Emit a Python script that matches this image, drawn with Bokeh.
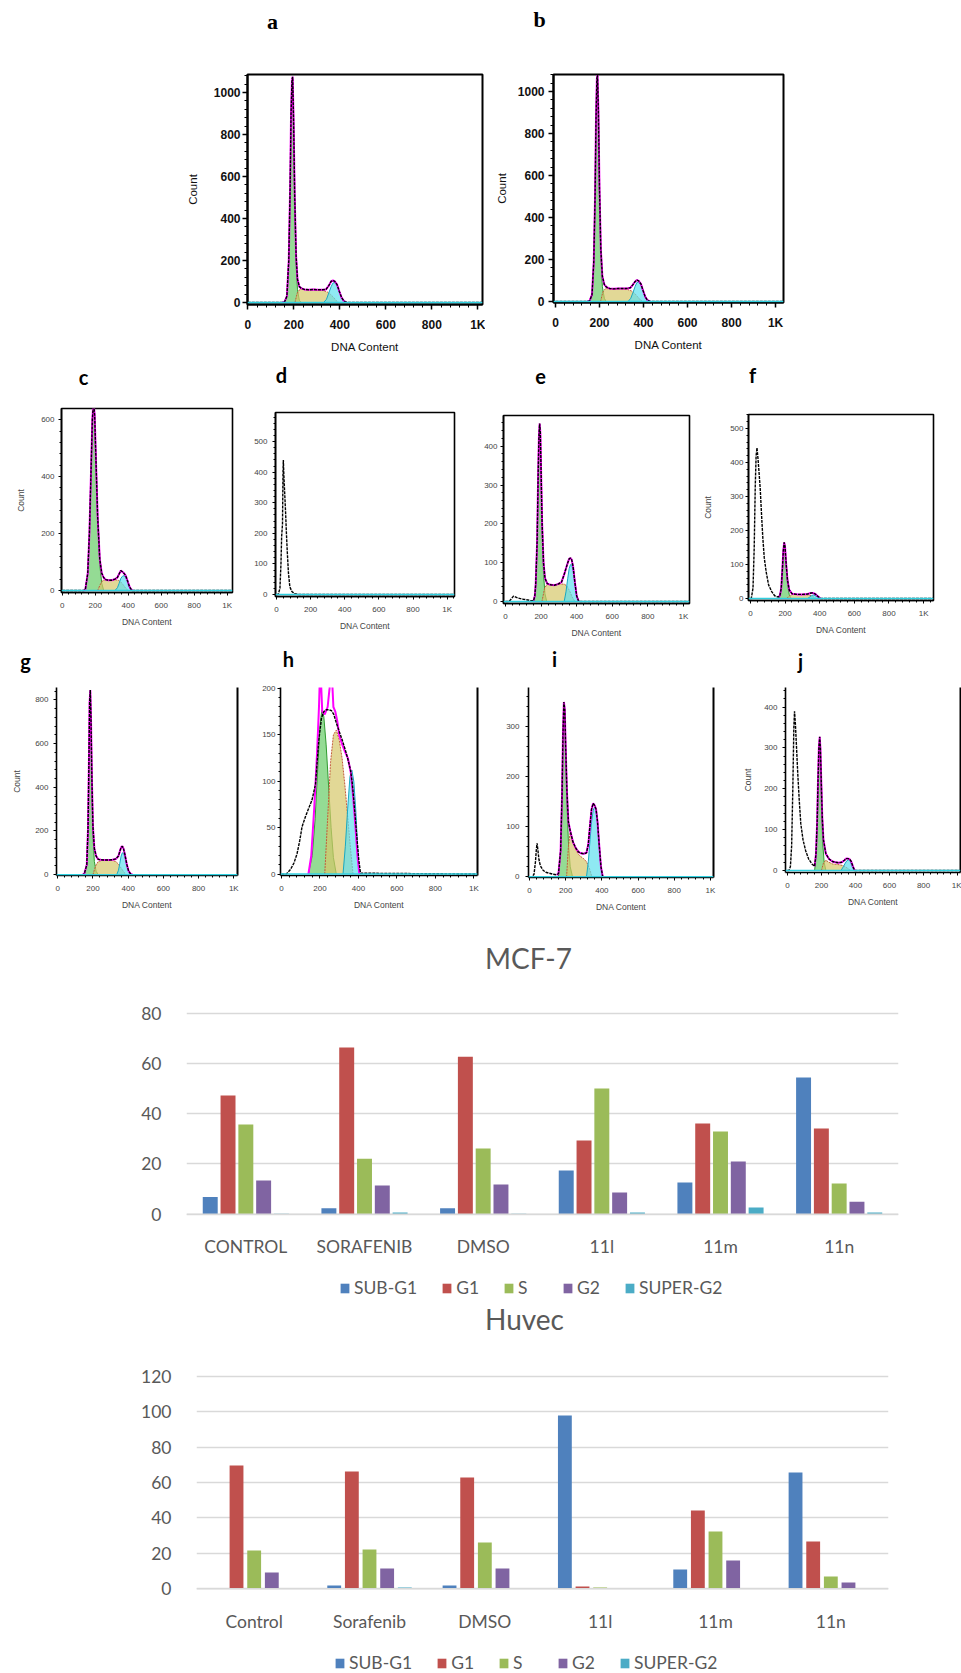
from bokeh.plotting import figure
from bokeh.layouts import column, row
from bokeh.models import (Range1d, FactorRange, Legend, LegendItem, Span,
                          SingleIntervalTicker, LinearAxis, ColumnDataSource, FixedTicker)
from bokeh.transform import dodge
from bokeh.embed import file_html
from bokeh.resources import INLINE
from bokeh.core.properties import value

# ---------------- bar chart data ----------------
mcf_categories = ["CONTROL", "SORAFENIB", "DMSO", "11l", "11m", "11n"]
huvec_categories = ["Control", "Sorafenib", "DMSO", "11l", "11m", "11n"]
phases = ["SUB-G1", "G1", "S", "G2", "SUPER-G2"]
mcf_sub_g1 = [6.8, 2.4, 2.4, 17.4, 12.6, 54.4]
mcf_g1 = [47.2, 66.3, 62.7, 29.3, 36.1, 34.1]
mcf_s = [35.7, 22.1, 26.1, 50.0, 32.9, 12.2]
mcf_g2 = [13.4, 11.4, 11.8, 8.6, 21.0, 5.0]
mcf_super_g2 = [0.2, 0.7, 0.2, 0.7, 2.7, 0.7]
huvec_sub_g1 = [0.0, 1.9, 1.9, 97.8, 10.9, 65.7]
huvec_g1 = [69.6, 66.2, 62.8, 1.3, 44.2, 26.7]
huvec_s = [21.6, 22.2, 26.2, 0.75, 32.4, 7.0]
huvec_g2 = [9.2, 11.5, 11.5, 0.0, 16.0, 3.6]
huvec_super_g2 = [0.0, 0.75, 0.0, 0.0, 0.0, 0.0]
mcf_yticks = [0, 20, 40, 60, 80]
huvec_yticks = [0, 20, 40, 60, 80, 100, 120]
phase_colors = ["#4F81BD", "#C0504D", "#9BBB59", "#8064A2", "#4BACC6"]

# ---------------- histogram data (DNA content, count) ----------------
a_total_x = [0, 150, 160, 170, 178, 184, 188, 192, 195, 199, 204, 210, 216, 224, 232, 245, 265, 285, 305, 325, 340, 352, 362, 370, 378, 388, 398, 408, 418, 430, 1024]
a_total_y = [0, 0, 3, 30, 200, 550, 900, 1060, 1075, 870, 500, 220, 110, 75, 68, 62, 60, 62, 60, 60, 62, 80, 100, 105, 100, 85, 52, 22, 6, 0, 0]
a_g1_x = [160, 170, 178, 184, 188, 192, 195, 199, 204, 210, 216, 224, 232]
a_g1_y = [0, 30, 200, 550, 900, 1060, 1050, 850, 480, 180, 60, 10, 0]
a_s_x = [205, 215, 228, 245, 265, 285, 305, 325, 345, 360, 372, 385, 395]
a_s_y = [0, 45, 65, 62, 60, 62, 60, 58, 50, 38, 25, 8, 0]
a_g2_x = [330, 342, 352, 362, 370, 378, 388, 398, 408, 418, 428]
a_g2_y = [0, 15, 45, 75, 92, 95, 80, 50, 22, 6, 0]

b_total_x = [0, 145, 155, 166, 174, 180, 184, 188, 191, 195, 200, 206, 213, 222, 232, 245, 265, 285, 305, 325, 340, 352, 362, 370, 378, 388, 398, 408, 418, 430, 1036]
b_total_y = [0, 0, 3, 32, 190, 510, 860, 1060, 1078, 910, 540, 250, 120, 80, 68, 62, 60, 62, 62, 62, 65, 80, 95, 102, 98, 84, 52, 22, 6, 0, 0]
b_g1_x = [155, 166, 174, 180, 184, 188, 191, 195, 200, 206, 213, 222, 230]
b_g1_y = [0, 30, 180, 500, 850, 1050, 1060, 900, 520, 220, 70, 15, 0]
b_s_x = [205, 215, 228, 245, 265, 285, 305, 325, 345, 360, 372, 385, 395]
b_s_y = [0, 45, 62, 60, 58, 60, 60, 58, 50, 38, 24, 8, 0]
b_g2_x = [330, 342, 352, 362, 370, 378, 388, 398, 408, 418, 428]
b_g2_y = [0, 15, 42, 72, 90, 92, 78, 48, 20, 5, 0]

c_total_x = [0, 130, 140, 155, 165, 175, 183, 190, 197, 205, 215, 228, 240, 252, 265, 280, 300, 320, 335, 345, 355, 365, 375, 385, 395, 405, 415, 425, 1030]
c_total_y = [0, 0, 2, 60, 200, 420, 600, 665, 615, 455, 260, 110, 60, 45, 38, 36, 36, 40, 46, 58, 70, 66, 60, 52, 36, 18, 6, 0, 0]
c_g1_x = [140, 155, 165, 175, 183, 190, 197, 205, 215, 228, 240, 252]
c_g1_y = [0, 60, 200, 420, 600, 660, 610, 450, 250, 90, 25, 0]
c_s_x = [215, 230, 245, 260, 280, 300, 320, 340, 355, 370, 385, 400]
c_s_y = [0, 20, 35, 38, 36, 36, 38, 36, 30, 20, 8, 0]
c_g2_x = [320, 335, 345, 355, 365, 375, 385, 395, 405, 415, 425]
c_g2_y = [0, 10, 25, 42, 50, 52, 45, 32, 16, 5, 0]

d_total_x = [0, 10, 20, 26, 30, 35, 38, 40, 43, 48, 53, 58, 63, 70, 78, 90, 105, 130, 1040]
d_total_y = [0, 0, 20, 100, 190, 230, 400, 440, 390, 330, 270, 200, 140, 70, 25, 10, 3, 0, 0]

e_total_x = [0, 20, 35, 45, 55, 70, 100, 140, 158, 165, 170, 178, 184, 188, 192, 196, 200, 206, 214, 222, 235, 255, 275, 295, 315, 330, 340, 350, 358, 365, 372, 380, 390, 400, 412, 1035]
e_total_y = [0, 0, 8, 14, 12, 9, 6, 3, 2, 15, 45, 155, 335, 425, 458, 435, 340, 200, 100, 60, 46, 43, 42, 45, 50, 70, 85, 100, 110, 112, 108, 90, 50, 15, 0, 0]
e_g1_x = [160, 170, 178, 184, 188, 192, 196, 200, 206, 214, 222, 232]
e_g1_y = [0, 40, 150, 330, 420, 455, 430, 330, 180, 70, 20, 0]
e_s_x = [205, 220, 235, 255, 275, 295, 315, 330, 345, 360, 375, 390]
e_s_y = [0, 35, 45, 42, 42, 44, 45, 45, 40, 28, 12, 0]
e_g2_x = [330, 340, 350, 358, 365, 372, 380, 390, 400, 410]
e_g2_y = [0, 25, 60, 85, 95, 95, 80, 45, 15, 0]

f_total_x = [0, 5, 15, 22, 28, 33, 38, 44, 50, 57, 65, 72, 80, 91, 105, 123, 140, 160, 170, 178, 185, 190, 195, 200, 206, 214, 224, 240, 270, 300, 330, 350, 360, 375, 390, 405, 1057]
f_total_y = [0, 0, 30, 150, 330, 420, 443, 410, 370, 320, 240, 176, 120, 78, 40, 20, 8, 4, 8, 30, 90, 140, 165, 152, 105, 55, 25, 14, 12, 12, 13, 16, 16, 13, 6, 0, 0]
f_g1_x = [165, 175, 183, 188, 192, 196, 200, 206, 214, 224, 235]
f_g1_y = [0, 15, 60, 120, 158, 165, 150, 100, 45, 12, 0]
f_s_x = [210, 225, 245, 270, 295, 320, 340, 360, 380]
f_s_y = [0, 8, 12, 12, 11, 11, 10, 6, 0]
f_g2_x = [330, 345, 355, 365, 375, 390, 405]
f_g2_y = [0, 5, 9, 10, 8, 3, 0]

g_total_x = [0, 140, 150, 165, 172, 177, 181, 185, 189, 194, 200, 208, 218, 230, 245, 270, 290, 310, 330, 345, 352, 360, 367, 374, 382, 392, 402, 412, 424, 1030]
g_total_y = [0, 0, 2, 45, 210, 510, 790, 845, 710, 440, 220, 120, 85, 70, 68, 67, 67, 68, 72, 85, 105, 125, 130, 118, 90, 48, 18, 5, 0, 0]
g_g1_x = [150, 165, 172, 177, 181, 185, 189, 194, 200, 208, 218, 230]
g_g1_y = [0, 40, 200, 500, 780, 830, 700, 420, 180, 60, 15, 0]
g_s_x = [200, 215, 230, 250, 270, 290, 310, 330, 345, 360, 375, 390]
g_s_y = [0, 40, 60, 65, 66, 66, 65, 60, 48, 30, 12, 0]
g_g2_x = [335, 345, 352, 360, 367, 374, 382, 392, 402, 412, 422]
g_g2_y = [0, 20, 50, 85, 100, 98, 80, 45, 18, 5, 0]

h_total_x = [0, 25, 47, 65, 81, 95, 107, 125, 140, 159, 177, 194, 208, 220, 233, 246, 260, 272, 285, 298, 315, 333, 345, 359, 368, 376, 385, 393, 402, 411, 1030]
h_total_y = [0, 0, 5, 12, 22, 36, 51, 62, 70, 80, 97, 144, 168, 175, 177, 177, 176, 172, 163, 155, 145, 133, 124, 112, 98, 80, 58, 37, 15, 1, 0]
h_fit_x = [140, 155, 170, 185, 195, 200, 205, 212, 225, 240, 250, 256, 262, 270, 280, 290, 300, 315, 330, 345, 360, 372, 385, 395, 405]
h_fit_y = [0, 20, 70, 130, 180, 215, 210, 175, 172, 180, 200, 220, 215, 180, 175, 165, 150, 140, 132, 125, 110, 85, 50, 20, 0]
h_g1_x = [140, 160, 175, 190, 200, 210, 220, 232, 245, 258, 270, 285]
h_g1_y = [0, 20, 60, 120, 160, 177, 170, 140, 95, 50, 18, 0]
h_s_x = [225, 240, 255, 270, 285, 300, 315, 330, 345, 360, 372]
h_s_y = [0, 60, 120, 150, 155, 145, 125, 95, 60, 25, 0]
h_g2_x = [320, 332, 344, 356, 366, 376, 386, 396, 405]
h_g2_y = [0, 30, 70, 105, 112, 100, 70, 30, 0]

i_total_x = [0, 15, 25, 33, 38, 42, 46, 52, 60, 75, 90, 110, 130, 150, 160, 172, 180, 185, 190, 195, 200, 207, 215, 225, 240, 255, 270, 285, 300, 315, 325, 335, 343, 352, 360, 368, 376, 385, 395, 405, 1030]
i_total_y = [0, 0, 5, 30, 55, 67, 55, 35, 22, 13, 9, 7, 5, 4, 6, 52, 165, 285, 350, 335, 260, 170, 110, 92, 70, 58, 50, 47, 46, 48, 65, 105, 135, 147, 143, 135, 110, 65, 20, 0, 0]
i_g1_x = [160, 172, 180, 185, 190, 195, 200, 207, 215, 225, 238]
i_g1_y = [0, 50, 160, 280, 345, 330, 250, 150, 70, 20, 0]
i_s_x = [205, 215, 225, 240, 255, 270, 285, 300, 315, 330, 345]
i_s_y = [0, 60, 90, 70, 55, 45, 40, 36, 30, 18, 0]
i_g2_x = [315, 325, 335, 343, 352, 360, 368, 376, 385, 395, 403]
i_g2_y = [0, 30, 75, 110, 133, 140, 135, 110, 65, 20, 0]

j_total_x = [0, 10, 18, 25, 32, 38, 42, 47, 54, 61, 70, 79, 92, 107, 125, 144, 160, 168, 175, 180, 185, 190, 194, 199, 205, 212, 226, 245, 265, 282, 300, 320, 335, 346, 356, 365, 375, 385, 395, 1030]
j_total_y = [0, 0, 10, 60, 200, 350, 390, 360, 300, 237, 170, 114, 75, 49, 28, 16, 10, 40, 120, 220, 300, 327, 300, 220, 130, 75, 41, 28, 22, 20, 19, 20, 25, 29, 29, 28, 22, 10, 0, 0]
j_g1_x = [160, 170, 178, 183, 188, 192, 196, 201, 208, 216, 226]
j_g1_y = [0, 40, 140, 240, 315, 320, 250, 150, 65, 20, 0]
j_s_x = [200, 212, 225, 245, 265, 285, 305, 325, 340, 355, 370]
j_s_y = [0, 18, 25, 20, 16, 15, 14, 12, 9, 5, 0]
j_g2_x = [315, 330, 340, 350, 360, 370, 380, 392]
j_g2_y = [0, 10, 18, 24, 26, 22, 10, 0]

# ---------------- styling / layout ----------------
TXT = "#595959"
SANS = "Liberation Sans"
G1_FILL, G1_LINE = "#66cc66", "#2f9a2f"
S_FILL, S_LINE = "#d6c86a", "#c25a3a"
G2_FILL, G2_LINE = "#5fe0ee", "#1aa8c0"
PAGE_W = 961


def strip(W, H, texts=(), legend=None):
    """A figure whose frame is the whole canvas (1 unit = 1 px, y downward) for texts outside plots."""
    p = figure(width=W, height=H, x_range=Range1d(0, W), y_range=Range1d(H, 0),
               x_axis_type=None, y_axis_type=None, output_backend="svg", toolbar_location=None,
               min_border_left=0, min_border_right=0, min_border_top=0, min_border_bottom=0)
    p.outline_line_color = None
    p.grid.visible = False
    for (x, y, txt, font, size, style, color) in texts:
        p.text(x=[x], y=[y], text=[txt], text_font=value(font), text_font_size=value(size),
               text_font_style=value(style), text_color=color, text_align="center",
               text_baseline="middle")
    if legend is not None:
        items = []
        # legend swatches: zero-height proxies placed off the canvas, only their colours are shown
        proxy = ColumnDataSource(dict(x=[-100], top=[0]))
        for name, col in zip(phases, phase_colors):
            r = p.vbar(x="x", top="top", width=1, fill_color=col, line_color=None, source=proxy)
            items.append(LegendItem(label=name, renderers=[r], index=0))
        leg = Legend(items=items, orientation="horizontal", location=legend,
                     glyph_width=11, glyph_height=12, label_standoff=4, spacing=24,
                     padding=0, margin=0, border_line_color=None, background_fill_alpha=0,
                     label_text_font="Lato", label_text_font_size="17.5px", label_text_color=TXT,
                     label_height=12)
        p.add_layout(leg)
    return p


def hist_panel(spec):
    W, H = spec["W"], spec["H"]
    bl, br, bt, bb = spec["borders"]
    xr, yr = spec["xr"], spec["yr"]
    big = spec["big"]
    p = figure(width=W, height=H, x_range=Range1d(*xr), y_range=Range1d(*yr),
               output_backend="svg", toolbar_location=None,
               min_border_left=bl, min_border_right=br, min_border_top=bt, min_border_bottom=bb)
    p.grid.visible = False
    lw = 2 if big else 1.6
    if spec["box"]:
        p.outline_line_color = "black"
        p.outline_line_width = lw
    else:
        p.outline_line_color = None
    for key, fc, lc, dash in (("g1", G1_FILL, G1_LINE, "solid"), ("s", S_FILL, S_LINE, "2 1"),
                              ("g2", G2_FILL, G2_LINE, "solid")):
        if key in spec:
            xs, ys = spec[key]
            p.varea(x=xs, y1=0, y2=ys, fill_color=fc, fill_alpha=0.7)
            p.line(xs, ys, line_color=lc, line_width=1.0, line_dash=dash)
    tx, ty = spec["total"]
    if "fit" in spec:
        fx, fy = spec["fit"]
        p.line(fx, fy, line_color="#ff00ff", line_width=2.0)
    p.line(tx, ty, line_color="black", line_width=1.4, line_dash="3 1")
    p.add_layout(Span(location=0, dimension="width", line_color="#30d0e0", line_width=1.5))

    xa = p.below[0]
    ya = p.left[0]
    xa.ticker = SingleIntervalTicker(interval=200, num_minor_ticks=5)
    xa.major_label_overrides = {1000: "1K"}
    ya.ticker = SingleIntervalTicker(interval=spec["yint"], num_minor_ticks=5)
    for ax in (xa, ya):
        ax.axis_line_width = lw
        ax.axis_line_color = "black"
        ax.major_tick_line_color = "black"
        ax.minor_tick_line_color = "black"
        ax.major_tick_in = 0
        ax.minor_tick_in = 0
        ax.major_tick_out = 5 if big else 3
        ax.minor_tick_out = 3 if big else 2
        ax.major_tick_line_width = 1.5 if big else 1
        ax.minor_tick_line_width = 1
        ax.major_label_text_font = SANS
        ax.major_label_text_font_size = "12px" if big else "8px"
        ax.major_label_text_font_style = "bold" if big else "normal"
        ax.major_label_text_color = "#111111" if big else "#444444"
        ax.axis_label_text_font = SANS
        ax.axis_label_text_font_size = "11.5px" if big else "8.5px"
        ax.axis_label_text_font_style = "normal"
        ax.axis_label_text_color = "#111111" if big else "#444444"
    xa.axis_label = "DNA Content"
    xa.major_label_standoff = 8 if big else 5
    xa.axis_label_standoff = 6 if big else 4
    ya.major_label_standoff = spec.get("ystand", 3)
    if spec["count"]:
        ya.axis_label = "Count"
        ya.axis_label_standoff = spec.get("lstand", 10)
    if not spec["box"]:
        ra = LinearAxis(ticker=FixedTicker(ticks=[], minor_ticks=[]), axis_line_width=2,
                        axis_line_color="black", major_tick_line_color=None,
                        minor_tick_line_color=None, major_label_standoff=0)
        p.add_layout(ra, "right")
    return p


def fit_of(xs, ys, lo, hi):
    fx = [x for x in xs if lo <= x <= hi]
    fy = [y for x, y in zip(xs, ys) if lo <= x <= hi]
    return fx, fy


specs = [
    dict(W=485, H=307, borders=(247, 3, 26, 51), xr=(-1.3, 1020), yr=(-10, 1086),
         yint=200, big=True, box=True, count=True, ystand=2, lstand=12,
         total=(a_total_x, a_total_y), g1=(a_g1_x, a_g1_y), s=(a_s_x, a_s_y), g2=(a_g2_x, a_g2_y),
         fit=fit_of(a_total_x, a_total_y, 150, 440)),
    dict(W=476, H=307, borders=(68, 178, 26, 53), xr=(-9, 1036), yr=(-5, 1081),
         yint=200, big=True, box=True, count=True, ystand=4, lstand=7,
         total=(b_total_x, b_total_y), g1=(b_g1_x, b_g1_y), s=(b_s_x, b_s_y), g2=(b_g2_x, b_g2_y),
         fit=fit_of(b_total_x, b_total_y, 145, 440)),
    dict(W=248, H=245, borders=(61, 16, 13, 48), xr=(-4, 1032), yr=(-7, 639),
         yint=200, big=False, box=True, count=True, ystand=4, lstand=12,
         total=(c_total_x, c_total_y), g1=(c_g1_x, c_g1_y), s=(c_s_x, c_s_y), g2=(c_g2_x, c_g2_y),
         fit=fit_of(c_total_x, c_total_y, 130, 430)),
    dict(W=230, H=245, borders=(27, 24, 17, 44), xr=(-6, 1043), yr=(-6.5, 595),
         yint=100, big=False, box=True, count=False, ystand=5,
         total=(d_total_x, d_total_y)),
    dict(W=222, H=245, borders=(25, 11, 20, 36), xr=(-11, 1034), yr=(-5, 479),
         yint=100, big=False, box=True, count=False, ystand=3,
         total=(e_total_x, e_total_y), g1=(e_g1_x, e_g1_y), s=(e_s_x, e_s_y), g2=(e_g2_x, e_g2_y),
         fit=fit_of(e_total_x, e_total_y, 158, 415)),
    dict(W=261, H=245, borders=(45, 28, 19, 40), xr=(-11, 1057), yr=(-6, 541),
         yint=100, big=False, box=True, count=True, ystand=2, lstand=14,
         total=(f_total_x, f_total_y), g1=(f_g1_x, f_g1_y), s=(f_s_x, f_s_y), g2=(f_g2_x, f_g2_y),
         fit=fit_of(f_total_x, f_total_y, 160, 410)),
    dict(W=255, H=250, borders=(56, 18, 7, 55), xr=(-7, 1021), yr=(-4, 857),
         yint=200, big=False, box=False, count=True, ystand=5, lstand=10,
         total=(g_total_x, g_total_y), g1=(g_g1_x, g_g1_y), s=(g_s_x, g_s_y), g2=(g_g2_x, g_g2_y),
         fit=fit_of(g_total_x, g_total_y, 140, 425)),
    dict(W=240, H=250, borders=(25, 18, 7, 55), xr=(-5, 1019), yr=(-1.5, 201),
         yint=50, big=False, box=False, count=False, ystand=2,
         total=(h_total_x, h_total_y), g1=(h_g1_x, h_g1_y), s=(h_s_x, h_s_y), g2=(h_g2_x, h_g2_y),
         fit=(h_fit_x, h_fit_y)),
    dict(W=245, H=250, borders=(33, 27, 7, 53), xr=(-5.5, 1017), yr=(-1.5, 379),
         yint=100, big=False, box=False, count=False, ystand=6,
         total=(i_total_x, i_total_y), g1=(i_g1_x, i_g1_y), s=(i_s_x, i_s_y), g2=(i_g2_x, i_g2_y),
         fit=fit_of(i_total_x, i_total_y, 150, 410)),
    dict(W=221, H=250, borders=(34, 1, 7, 58), xr=(-11, 1017), yr=(-5, 448),
         yint=100, big=False, box=False, count=True, ystand=5, lstand=8,
         total=(j_total_x, j_total_y), g1=(j_g1_x, j_g1_y), s=(j_s_x, j_s_y), g2=(j_g2_x, j_g2_y),
         fit=fit_of(j_total_x, j_total_y, 160, 400)),
]

panels = [hist_panel(s) for s in specs]


def bar_chart(cats, series, W, H, borders, yr, yticks, bar_w, pitch):
    bl, br, bt, bb = borders
    data = {"cat": cats}
    for name, vals in zip(phases, series):
        data[name] = vals
    src = ColumnDataSource(data)
    p = figure(width=W, height=H, x_range=FactorRange(factors=cats, range_padding=0, factor_padding=0),
               y_range=Range1d(*yr), output_backend="svg", toolbar_location=None,
               min_border_left=bl, min_border_right=br, min_border_top=bt, min_border_bottom=bb)
    p.outline_line_color = None
    p.xgrid.visible = False
    p.ygrid.ticker = FixedTicker(ticks=yticks)
    p.ygrid.grid_line_color = "#d9d9d9"
    p.ygrid.grid_line_width = 1.5
    for k, (name, col) in enumerate(zip(phases, phase_colors)):
        off = (k - 2) * pitch
        p.vbar(x=dodge("cat", off, range=p.x_range), top=name, width=bar_w, source=src,
               fill_color=col, line_color=None)
    p.add_layout(Span(location=0, dimension="width", line_color="#d9d9d9", line_width=1.5))
    p.yaxis.ticker = FixedTicker(ticks=yticks)
    for ax in (p.xaxis[0], p.yaxis[0]):
        ax.axis_line_color = None
        ax.major_tick_line_color = None
        ax.minor_tick_line_color = None
        ax.major_label_text_font = "Lato"
        ax.major_label_text_font_size = "17.5px"
        ax.major_label_text_color = TXT
    p.xaxis.major_label_standoff = 13
    p.yaxis.major_label_standoff = 19
    return p


# strips with the panel letters, titles and legends
strip_a = strip(PAGE_W, 48, [(272, 21, "a", "Liberation Serif", "22px", "bold", "black"),
                             (539, 19, "b", "Liberation Serif", "22px", "bold", "black")])
strip_b = strip(PAGE_W, 40, [(83, 21, "c", "Lato", "20px", "bold", "black"),
                             (281, 19, "d", "Lato", "20px", "bold", "black"),
                             (540, 21, "e", "Lato", "20px", "bold", "black"),
                             (752, 19, "f", "Lato", "20px", "bold", "black")])
strip_c = strip(PAGE_W, 40, [(25, 20, "g", "Lato", "20px", "bold", "black"),
                             (288, 18, "h", "Lato", "20px", "bold", "black"),
                             (554, 18, "i", "Lato", "20px", "bold", "black"),
                             (800, 20, "j", "Lato", "20px", "bold", "black")])
strip_mt = strip(PAGE_W, 50, [(528, 27, "MCF-7", "Lato", "28px", "normal", TXT)])
mcf = bar_chart(mcf_categories, [mcf_sub_g1, mcf_g1, mcf_s, mcf_g2, mcf_super_g2],
                PAGE_W, 292, (186, 63, 25, 56), (-0.915, 83.06), mcf_yticks, 0.126, 0.15)
strip_ml = strip(PAGE_W, 28, legend=(339, 2))
strip_ht = strip(PAGE_W, 45, [(524, 18, "Huvec", "Lato", "28px", "normal", TXT)])
huv = bar_chart(huvec_categories, [huvec_sub_g1, huvec_g1, huvec_s, huvec_g2, huvec_super_g2],
                PAGE_W, 295, (196, 73, 24, 49), (-1.524, 123.78), huvec_yticks, 0.12, 0.153)
strip_hl = strip(PAGE_W, 33, legend=(334, 0))


def solo(p):
    # wrap a plot on its own so that Bokeh does not align its frame with its neighbours
    return row(p)


layout = column(solo(strip_a),
                row(*[column(p) for p in panels[0:2]]),
                solo(strip_b),
                row(*[column(p) for p in panels[2:6]]),
                solo(strip_c),
                row(*[column(p) for p in panels[6:10]]),
                solo(strip_mt), solo(mcf), solo(strip_ml),
                solo(strip_ht), solo(huv), solo(strip_hl))

open("out.html", "w").write(file_html(layout, INLINE))
